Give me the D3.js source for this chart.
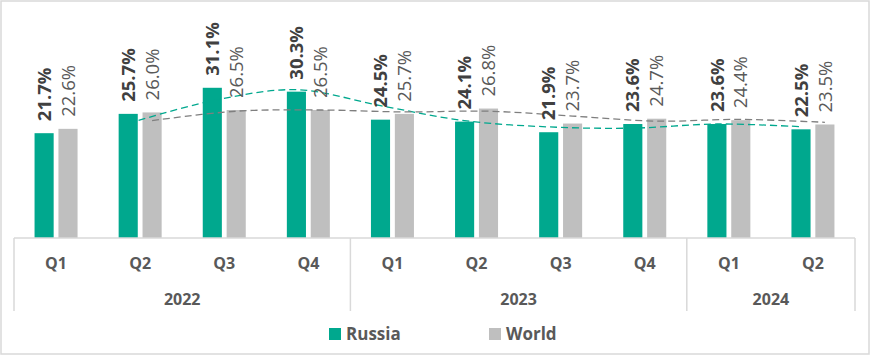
<!DOCTYPE html>
<html>
<head>
<meta charset="utf-8">
<script src="https://cdn.jsdelivr.net/npm/d3@7"></script>
<style>
html,body{margin:0;padding:0;background:#fff;}
svg{display:block;font-family:"Open Sans",sans-serif;}
</style>
</head>
<body>
<svg id="chart" width="870" height="355"></svg>
<script>
const quarters = ["Q1","Q2","Q3","Q4","Q1","Q2","Q3","Q4","Q1","Q2"];
const yearLabels = ["2022","2023","2024"];
const yearSpans = [4,4,2];
const seriesNames = ["Russia","World"];
const russia = [21.7,25.7,31.1,30.3,24.5,24.1,21.9,23.6,23.6,22.5];
const world  = [22.6,26.0,26.5,26.5,25.7,26.8,23.7,24.7,24.4,23.5];
const colors = {Russia:"#00A88E", World:"#BFBFBF"};
const trendColors = {Russia:"#00A88E", World:"#7F7F7F"};

const svg = d3.select("#chart");
const W = 870, H = 355;
const left = 14, right = 855, base = 238;

svg.append("rect").attr("x",1).attr("y",1).attr("width",W-2).attr("height",H-2)
  .attr("fill","#fff").attr("stroke","#D9D9D9").attr("stroke-width",1.5);

const idx = d3.range(quarters.length);
const x = d3.scaleBand().domain(idx).range([left,right]).paddingInner(0).paddingOuter(0);
const cw = x.bandwidth();
const xs = d3.scaleBand().domain(seriesNames).range([cw/2-21.5, cw/2+21.5]).paddingInner(0.2);
const y = d3.scaleLinear().domain([0,40]).range([base, base-40*4.83]);

const data = {Russia:russia, World:world};

// bars
seriesNames.forEach(s => {
  svg.append("g").selectAll("rect").data(data[s]).join("rect")
    .attr("x",(d,i)=>x(i)+xs(s))
    .attr("y",d=>y(d))
    .attr("width",xs.bandwidth())
    .attr("height",d=>base-y(d))
    .attr("fill",colors[s]);
});

// trendlines (2-period moving average, smoothed)
seriesNames.forEach(s => {
  const v = data[s];
  const pts = d3.range(1,v.length).map(i => [x(i)+xs(s)+xs.bandwidth()/2, y((v[i]+v[i-1])/2)]);
  svg.append("path")
    .attr("d", d3.line().curve(d3.curveCatmullRom.alpha(0.5))(pts))
    .attr("fill","none")
    .attr("stroke",trendColors[s])
    .attr("stroke-width",1.3)
    .attr("stroke-dasharray","7,4");
});

// labels
seriesNames.forEach(s => {
  svg.append("g").selectAll("text").data(data[s]).join("text")
    .attr("transform",(d,i)=>`translate(${x(i)+xs(s)+xs.bandwidth()/2},${y(d)-12}) rotate(-90)`)
    .attr("dy","0.36em")
    .attr("text-anchor","start")
    .attr("font-size",18.5)
    .attr("font-weight", s==="Russia"?700:400)
    .attr("fill", s==="Russia"?"#404040":"#595959")
    .text(d=>d.toFixed(1)+"%");
});

// axis
const axisG = svg.append("g").attr("stroke","#D9D9D9").attr("stroke-width",1.5);
axisG.append("line").attr("x1",left).attr("x2",right).attr("y1",base).attr("y2",base);
let acc = 0;
const bounds = [0];
yearSpans.forEach(n => { acc += n; bounds.push(acc); });
bounds.forEach(b => {
  const xp = b < quarters.length ? x(b) : right;
  axisG.append("line").attr("x1",xp).attr("x2",xp).attr("y1",base).attr("y2",311);
});

svg.append("g").selectAll("text").data(quarters).join("text")
  .attr("x",(d,i)=>x(i)+cw/2).attr("y",269)
  .attr("text-anchor","middle").attr("font-size",16).attr("font-weight",700)
  .attr("fill","#595959").text(d=>d);

svg.append("g").selectAll("text").data(yearLabels).join("text")
  .attr("x",(d,i)=>{
    const a = x(bounds[i]);
    const b = bounds[i+1] < quarters.length ? x(bounds[i+1]) : right;
    return (a+b)/2;
  }).attr("y",305)
  .attr("text-anchor","middle").attr("font-size",16).attr("font-weight",700)
  .attr("fill","#595959").text(d=>d);

// legend
const legendX = [329, 489];
seriesNames.forEach((s,i) => {
  svg.append("rect").attr("x",legendX[i]).attr("y",328).attr("width",12).attr("height",12).attr("fill",colors[s]);
  svg.append("text").attr("x",legendX[i]+17).attr("y",339.5)
    .attr("font-size",17).attr("font-weight",700).attr("fill","#595959").text(s);
});
</script>
</body>
</html>
